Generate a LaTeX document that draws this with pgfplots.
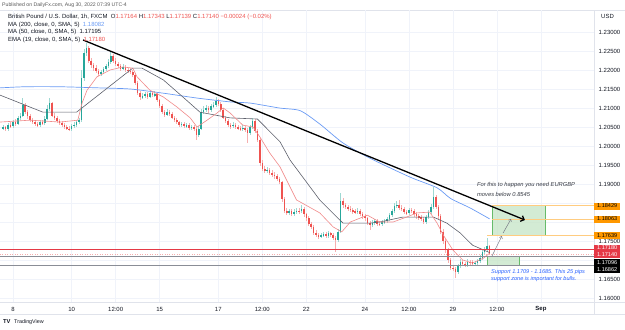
\documentclass[border=0pt]{standalone}
\usepackage{fontspec}
\setmainfont{Liberation Sans}
\usepackage{pgfplots}
\pgfplotsset{compat=1.18}
\usepackage{pgfplotstable}
\usetikzlibrary{arrows.meta}

\definecolor{upc}{HTML}{26A69A}
\definecolor{dnc}{HTML}{EF5350}
\definecolor{upw}{HTML}{9ED8D2}
\definecolor{dnw}{HTML}{F6AFAF}
\definecolor{maA}{HTML}{6A9BF4}
\definecolor{maB}{HTML}{5D606B}
\definecolor{emac}{HTML}{F08A8A}
\definecolor{gridc}{HTML}{F0F3FA}
\definecolor{framec}{HTML}{E0E3EB}
\definecolor{lblc}{HTML}{131722}
\definecolor{orng}{HTML}{FF9800}
\definecolor{orngl}{HTML}{FFCC80}
\definecolor{redl}{HTML}{E53946}
\definecolor{grayl}{HTML}{8A8D96}
\definecolor{boxf}{HTML}{C8E6C9}
\definecolor{boxd}{HTML}{66BB6A}
\definecolor{supp}{HTML}{2962FF}
\definecolor{arrg}{HTML}{787B86}

% GBP/USD, 2-hour bars; t = trading hours since Aug 8, 00:00 (UTC-4)
\pgfplotstableread{
t o h l c
-8 1.2046 1.2056 1.2041 1.2050
-6 1.2050 1.2054 1.2039 1.2044
-4 1.2044 1.2060 1.2040 1.2055
-2 1.2055 1.2062 1.2047 1.2052
0 1.2052 1.2068 1.2048 1.2063
2 1.2063 1.2070 1.2053 1.2058
4 1.2058 1.2080 1.2054 1.2074
6 1.2074 1.2088 1.2069 1.2080
8 1.2080 1.2126 1.2076 1.2108
10 1.2108 1.2114 1.2085 1.2090
12 1.2090 1.2095 1.2072 1.2078
14 1.2078 1.2084 1.2062 1.2068
16 1.2068 1.2074 1.2057 1.2063
18 1.2063 1.2068 1.2052 1.2058
20 1.2058 1.2064 1.2049 1.2055
22 1.2055 1.2068 1.2051 1.2062
24 1.2062 1.2069 1.2054 1.2060
26 1.2060 1.2078 1.2056 1.2072
28 1.2072 1.2108 1.2068 1.2098
30 1.2098 1.2126 1.2092 1.2112
32 1.2112 1.2116 1.2076 1.2080
34 1.2080 1.2086 1.2068 1.2074
36 1.2074 1.2079 1.2061 1.2066
38 1.2066 1.2071 1.2055 1.2060
40 1.2060 1.2065 1.2050 1.2055
42 1.2055 1.2060 1.2045 1.2050
44 1.2050 1.2056 1.2041 1.2046
46 1.2046 1.2052 1.2040 1.2044
48 1.2044 1.2058 1.2040 1.2052
50 1.2052 1.2062 1.2047 1.2056
52 1.2056 1.2068 1.2051 1.2062
54 1.2062 1.2074 1.2058 1.2068
56 1.2068 1.2200 1.2064 1.2180
58 1.2180 1.2256 1.2172 1.2245
60 1.2245 1.2271 1.2236 1.2258
62 1.2258 1.2262 1.2218 1.2225
64 1.2225 1.2232 1.2205 1.2212
66 1.2212 1.2219 1.2198 1.2205
68 1.2205 1.2212 1.2192 1.2198
70 1.2198 1.2204 1.2184 1.2190
72 1.2190 1.2201 1.2185 1.2195
74 1.2195 1.2208 1.2190 1.2202
76 1.2202 1.2216 1.2197 1.2210
78 1.2210 1.2229 1.2205 1.2222
80 1.2222 1.2247 1.2217 1.2236
82 1.2236 1.2242 1.2219 1.2225
84 1.2225 1.2231 1.2210 1.2216
86 1.2216 1.2222 1.2204 1.2210
88 1.2210 1.2216 1.2198 1.2204
90 1.2204 1.2215 1.2199 1.2208
92 1.2208 1.2213 1.2194 1.2200
94 1.2200 1.2206 1.2192 1.2198
96 1.2198 1.2204 1.2189 1.2195
98 1.2195 1.2201 1.2182 1.2188
100 1.2188 1.2192 1.2160 1.2165
102 1.2165 1.2170 1.2134 1.2140
104 1.2140 1.2146 1.2122 1.2128
106 1.2128 1.2139 1.2123 1.2132
108 1.2132 1.2142 1.2127 1.2136
110 1.2136 1.2141 1.2125 1.2130
112 1.2130 1.2146 1.2126 1.2140
114 1.2140 1.2145 1.2129 1.2134
116 1.2134 1.2145 1.2128 1.2137
118 1.2137 1.2141 1.2115 1.2120
120 1.2120 1.2124 1.2099 1.2105
122 1.2105 1.2110 1.2084 1.2090
124 1.2090 1.2095 1.2076 1.2082
126 1.2082 1.2097 1.2078 1.2090
128 1.2090 1.2096 1.2080 1.2085
130 1.2085 1.2090 1.2070 1.2075
132 1.2075 1.2080 1.2062 1.2068
134 1.2068 1.2073 1.2057 1.2062
136 1.2062 1.2067 1.2051 1.2056
138 1.2056 1.2064 1.2051 1.2058
140 1.2058 1.2063 1.2047 1.2052
142 1.2052 1.2061 1.2047 1.2055
144 1.2055 1.2060 1.2043 1.2048
146 1.2048 1.2056 1.2043 1.2050
148 1.2050 1.2055 1.2040 1.2046
150 1.2046 1.2050 1.2016 1.2030
152 1.2030 1.2052 1.2024 1.2045
154 1.2045 1.2098 1.2042 1.2090
156 1.2090 1.2104 1.2084 1.2096
158 1.2096 1.2107 1.2090 1.2100
160 1.2100 1.2106 1.2088 1.2094
162 1.2094 1.2110 1.2090 1.2104
164 1.2104 1.2115 1.2099 1.2108
166 1.2108 1.2129 1.2103 1.2118
168 1.2118 1.2124 1.2104 1.2110
170 1.2110 1.2115 1.2090 1.2095
172 1.2095 1.2099 1.2070 1.2075
174 1.2075 1.2080 1.2060 1.2065
176 1.2065 1.2070 1.2050 1.2055
178 1.2055 1.2061 1.2046 1.2052
180 1.2052 1.2062 1.2047 1.2056
182 1.2056 1.2061 1.2045 1.2050
184 1.2050 1.2055 1.2042 1.2047
186 1.2047 1.2053 1.2040 1.2045
188 1.2045 1.2054 1.2040 1.2048
190 1.2048 1.2052 1.2036 1.2042
192 1.2042 1.2047 1.2008 1.2035
194 1.2035 1.2056 1.2030 1.2050
196 1.2050 1.2074 1.2045 1.2066
198 1.2066 1.2070 1.2034 1.2040
200 1.2040 1.2045 1.2010 1.2016
202 1.2016 1.2020 1.1948 1.1955
204 1.1955 1.1962 1.1934 1.1940
206 1.1940 1.1947 1.1929 1.1935
208 1.1935 1.1945 1.1930 1.1938
210 1.1938 1.1943 1.1924 1.1930
212 1.1930 1.1936 1.1919 1.1925
214 1.1925 1.1931 1.1914 1.1920
216 1.1920 1.1926 1.1908 1.1914
218 1.1914 1.1919 1.1899 1.1905
220 1.1905 1.1909 1.1854 1.1860
222 1.1860 1.1865 1.1823 1.1830
224 1.1830 1.1837 1.1818 1.1825
226 1.1825 1.1835 1.1819 1.1828
228 1.1828 1.1834 1.1816 1.1822
230 1.1822 1.1833 1.1817 1.1826
232 1.1826 1.1837 1.1821 1.1830
234 1.1830 1.1836 1.1822 1.1828
236 1.1828 1.1845 1.1823 1.1834
238 1.1834 1.1839 1.1814 1.1820
240 1.1820 1.1825 1.1804 1.1810
242 1.1810 1.1815 1.1789 1.1795
244 1.1795 1.1801 1.1782 1.1788
246 1.1788 1.1792 1.1766 1.1772
248 1.1772 1.1778 1.1760 1.1766
250 1.1766 1.1772 1.1756 1.1762
252 1.1762 1.1772 1.1757 1.1766
254 1.1766 1.1775 1.1761 1.1768
256 1.1768 1.1774 1.1758 1.1764
258 1.1764 1.1777 1.1759 1.1770
260 1.1770 1.1775 1.1760 1.1766
262 1.1766 1.1770 1.1752 1.1758
264 1.1758 1.1763 1.1721 1.1752
266 1.1752 1.1781 1.1748 1.1775
268 1.1775 1.1876 1.1770 1.1855
270 1.1855 1.1862 1.1838 1.1845
272 1.1845 1.1851 1.1834 1.1840
274 1.1840 1.1846 1.1829 1.1835
276 1.1835 1.1841 1.1826 1.1832
278 1.1832 1.1838 1.1822 1.1828
280 1.1828 1.1834 1.1820 1.1826
282 1.1826 1.1837 1.1821 1.1830
284 1.1830 1.1835 1.1816 1.1822
286 1.1822 1.1827 1.1809 1.1815
288 1.1815 1.1821 1.1804 1.1810
290 1.1810 1.1814 1.1792 1.1798
292 1.1798 1.1803 1.1779 1.1792
294 1.1792 1.1805 1.1787 1.1798
296 1.1798 1.1809 1.1793 1.1802
298 1.1802 1.1807 1.1790 1.1796
300 1.1796 1.1803 1.1789 1.1795
302 1.1795 1.1806 1.1790 1.1800
304 1.1800 1.1808 1.1795 1.1802
306 1.1802 1.1814 1.1797 1.1808
308 1.1808 1.1824 1.1803 1.1818
310 1.1818 1.1835 1.1813 1.1828
312 1.1828 1.1850 1.1823 1.1842
314 1.1842 1.1855 1.1836 1.1846
316 1.1846 1.1858 1.1832 1.1838
318 1.1838 1.1844 1.1828 1.1834
320 1.1834 1.1839 1.1820 1.1826
322 1.1826 1.1832 1.1818 1.1824
324 1.1824 1.1838 1.1819 1.1832
326 1.1832 1.1838 1.1824 1.1830
328 1.1830 1.1835 1.1814 1.1820
330 1.1820 1.1826 1.1809 1.1815
332 1.1815 1.1821 1.1806 1.1812
334 1.1812 1.1818 1.1802 1.1808
336 1.1808 1.1813 1.1794 1.1800
338 1.1800 1.1818 1.1796 1.1812
340 1.1812 1.1832 1.1807 1.1826
342 1.1826 1.1847 1.1821 1.1840
344 1.1840 1.1892 1.1835 1.1865
346 1.1865 1.1872 1.1834 1.1840
348 1.1840 1.1845 1.1808 1.1815
350 1.1815 1.1820 1.1768 1.1775
352 1.1775 1.1781 1.1743 1.1750
354 1.1750 1.1756 1.1719 1.1726
356 1.1726 1.1732 1.1693 1.1700
358 1.1700 1.1706 1.1673 1.1680
360 1.1680 1.1687 1.1670 1.1676
362 1.1676 1.1682 1.1653 1.1668
364 1.1668 1.1690 1.1662 1.1685
366 1.1685 1.1702 1.1680 1.1695
368 1.1695 1.1700 1.1684 1.1690
370 1.1690 1.1696 1.1682 1.1688
372 1.1688 1.1702 1.1683 1.1696
374 1.1696 1.1701 1.1688 1.1694
376 1.1694 1.1699 1.1685 1.1690
378 1.1690 1.1698 1.1685 1.1692
380 1.1692 1.1704 1.1687 1.1698
382 1.1698 1.1712 1.1693 1.1706
384 1.1706 1.1727 1.1701 1.1720
386 1.1720 1.1735 1.1714 1.1728
388 1.1728 1.1758 1.1722 1.1736
390 1.1736 1.1740 1.17139 1.17140
}\ohlc

\pgfplotsset{
  candle/.style n args={3}{draw=none, mark=none, forget plot,
    y filter/.expression={#1 ? y : nan},
    error bars/.cd, y dir=both, y explicit, error mark=none,
    error bar style={draw=#2, solid, line width=#3}},
}

\begin{document}
\begin{tikzpicture}[font=\fontsize{6}{7}\selectfont]
\path[use as bounding box] (0,0) rectangle (625bp,330bp);
% pane frame
\draw[framec, line width=0.6bp] (0,319.5bp) -- (625bp,319.5bp);
\draw[framec, line width=0.6bp] (0,28bp) -- (625bp,28bp);
\draw[framec, line width=0.6bp] (0,16bp) -- (625bp,16bp);
\draw[framec, line width=0.6bp] (594bp,16bp) -- (594bp,319.5bp);

\begin{axis}[
  at={(0,28bp)}, anchor=south west,
  width=594bp, height=291.5bp, scale only axis,
  xmin=-10.64, xmax=475.4, ymin=1.15895, ymax=1.23566,
  clip=false,
  axis line style={draw=none},
  major tick length=0pt,
  grid=major, grid style={draw=gridc, line width=0.6bp},
  xtick={0,48,84,120,168,204,240,288,324,360,396,432},
  xticklabels={8,10,12:00,15,17,12:00,22,24,12:00,29,12:00,\textbf{Sep}},
  ytick={1.16,1.165,1.17,1.175,1.18,1.185,1.19,1.195,1.2,1.205,1.21,1.215,1.22,1.225,1.23},
  yticklabels={1.16000,1.16500,{},1.17500,{},{},1.19000,1.19500,1.20000,1.20500,1.21000,1.21500,1.22000,1.22500,1.23000},
  yticklabel pos=right,
  /pgf/number format/assume math mode=true,
  tick label style={font=\fontsize{6}{7}\selectfont, text=lblc, inner sep=0pt},
  xticklabel style={anchor=center, yshift=-7bp},
  yticklabel style={anchor=west, xshift=4.5bp},
]
% candles: wicks, then bodies
\addplot[candle={\thisrow{c}>=\thisrow{o}}{upw}{0.6bp}]
  table[x=t, y expr={(\thisrow{h}+\thisrow{l})/2}, y error expr={(\thisrow{h}-\thisrow{l})/2}] {\ohlc};
\addplot[candle={\thisrow{c}<\thisrow{o}}{dnw}{0.6bp}]
  table[x=t, y expr={(\thisrow{h}+\thisrow{l})/2}, y error expr={(\thisrow{h}-\thisrow{l})/2}] {\ohlc};
\addplot[candle={\thisrow{c}>=\thisrow{o}}{upc}{1.5bp}]
  table[x=t, y expr={(\thisrow{o}+\thisrow{c})/2}, y error expr={abs(\thisrow{c}-\thisrow{o})/2}] {\ohlc};
\addplot[candle={\thisrow{c}<\thisrow{o}}{dnc}{1.5bp}]
  table[x=t, y expr={(\thisrow{o}+\thisrow{c})/2}, y error expr={abs(\thisrow{c}-\thisrow{o})/2}] {\ohlc};

% MA 200
\addplot[maA, line width=0.7bp, smooth, tension=0.4, mark=none] coordinates {
(-10.64,1.2153) (10,1.2156) (38,1.2156) (70,1.2153) (96,1.2150) (123,1.2139)
(151,1.2126) (178,1.2116) (194,1.2113) (218,1.2100) (235,1.2093) (251,1.2058)
(270,1.2008) (292,1.1968) (325,1.1918) (347,1.1890) (358,1.1862) (374,1.1837)
(390,1.18082)};
% MA 50
\addplot[maB, line width=0.6bp, mark=none] coordinates {
(-10.64,1.2134) (24.5,1.2089) (52,1.2089) (98,1.2205) (105.5,1.2205) (123,1.2174)
(139,1.2129) (153,1.2089) (177.6,1.2074) (200,1.2071) (218.5,1.2011) (226.7,1.1963)
(251,1.1858) (270,1.1797) (292,1.1797) (300,1.1800) (319,1.1813) (344,1.1813)
(355,1.1797) (366,1.1771) (376,1.1739) (390,1.17195)};
% EMA 19
\addplot[emac, line width=0.6bp, mark=none] coordinates {
(-10.64,1.2063) (14,1.2068) (38.5,1.2063) (53,1.2068) (56.5,1.2113) (60.6,1.2147)
(68.7,1.2182) (79.4,1.2200) (90,1.2208) (98,1.2205) (101.5,1.2182) (112,1.2147)
(123,1.2129) (134,1.2103) (145,1.2074) (150.6,1.2050) (158.8,1.2068) (167,1.2087)
(172,1.2100) (177.6,1.2087) (188,1.2055) (196.4,1.2050) (202,1.2024) (210,1.1982)
(218.5,1.1945) (232,1.1858) (251,1.1824) (262,1.1787) (269,1.1774) (276,1.1800)
(290,1.1818) (300,1.1800) (311,1.1800) (322,1.1813) (330.6,1.1824) (341,1.1826)
(347,1.1797) (352,1.1766) (360,1.1726) (368,1.1700) (376,1.1692) (385,1.1705)
(390,1.17180)};

% target and support zones
\fill[boxf, opacity=0.8] (axis cs:392,1.17639) rectangle (axis cs:435.4,1.18429);
\draw[boxd, line width=0.6bp] (axis cs:392,1.17639) rectangle (axis cs:435.4,1.18429);
\fill[boxf, opacity=0.8] (axis cs:388,1.16862) rectangle (axis cs:414,1.17096);
\draw[boxd, line width=0.6bp] (axis cs:388,1.16862) rectangle (axis cs:414,1.17096);

% horizontal levels
\addplot[orngl, line width=0.7bp] coordinates {(392,1.18429) (475.4,1.18429)};
\addplot[orngl, line width=0.7bp] coordinates {(392,1.18063) (475.4,1.18063)};
\addplot[orngl, line width=0.7bp] coordinates {(388,1.17639) (475.4,1.17639)};
\addplot[redl, line width=0.7bp] coordinates {(-10.64,1.1728) (475.4,1.1728)};
\addplot[dnw, line width=0.5bp, dotted] coordinates {(-10.64,1.1714) (475.4,1.1714)};
\addplot[grayl, line width=0.7bp] coordinates {(-10.64,1.17096) (475.4,1.17096)};
\addplot[grayl, line width=0.7bp] coordinates {(-10.64,1.16862) (475.4,1.16862)};

% trend line
\addplot[black, line width=1.3bp, -{Straight Barb[length=3bp,width=6bp]}] coordinates {(57.3,1.2279) (418.9,1.18053)};
% projected path
\addplot[arrg, line width=0.5bp, -{Straight Barb[length=2bp,width=3.5bp]}] coordinates {(392,1.1711) (400,1.1763)};
\addplot[arrg, line width=0.5bp, -{Straight Barb[length=2bp,width=3.5bp]}] coordinates {(401,1.1771) (407.5,1.1808)};

% notes
\node[anchor=west, inner sep=0pt, text=lblc!85, font=\fontsize{5.8}{6}\selectfont\itshape] at (axis cs:379.6,1.18974) {For this to happen you need EURGBP};
\node[anchor=west, inner sep=0pt, text=lblc!85, font=\fontsize{5.8}{6}\selectfont\itshape] at (axis cs:379.6,1.18737) {moves below 0.8545};
\node[anchor=west, inner sep=0pt, text=supp, font=\fontsize{5.6}{6}\selectfont\itshape] at (axis cs:391.1,1.16684) {Support 1.1709 - 1.1685. This 25 pips};
\node[anchor=west, inner sep=0pt, text=supp, font=\fontsize{5.6}{6}\selectfont\itshape] at (axis cs:391.1,1.16487) {support zone is important for bulls.};

% price scale labels
\tikzset{plbl/.style={anchor=west, inner sep=0pt, minimum width=26bp, minimum height=7bp, font=\fontsize{5.6}{6}\selectfont}}
\node[plbl, fill=orng, text=black] at (axis cs:475.4,1.18421) {1.18429};
\node[plbl, fill=orng, text=black] at (axis cs:475.4,1.18079) {1.18063};
\node[plbl, fill=orng, text=black] at (axis cs:475.4,1.17632) {1.17639};
\node[plbl, fill=redl, text=white] at (axis cs:475.4,1.17316) {1.17180};
\node[plbl, fill=redl, text=white] at (axis cs:475.4,1.17132) {1.17140};
\node[plbl, fill=black, text=white] at (axis cs:475.4,1.16934) {1.17096};
\node[plbl, fill=black, text=white] at (axis cs:475.4,1.16750) {1.16862};
\end{axis}

% header
\node[anchor=west, inner sep=0pt, text=black!65, font=\fontsize{5.2}{6}\selectfont] at (2bp,325bp) {Published on DailyFx.com, Aug 30, 2022 07:39 UTC-4};
\node[anchor=west, inner sep=0pt, text=lblc] at (8bp,313bp) {British Pound / U.S. Dollar, 1h, FXCM\ \ O\textcolor{dnc}{1.17164} H\textcolor{dnc}{1.17343} L\textcolor{dnc}{1.17139} C\textcolor{dnc}{1.17140} \textcolor{dnc}{−0.00024 (−0.02\%)}};
\node[anchor=west, inner sep=0pt, text=lblc] at (8bp,305.5bp) {MA (200, close, 0, SMA, 5)\ \ \textcolor{maA}{1.18082}};
\node[anchor=west, inner sep=0pt, text=lblc] at (8bp,298bp) {MA (50, close, 0, SMA, 5)\ \ \textcolor{lblc}{1.17195}};
\node[anchor=west, inner sep=0pt, text=lblc] at (8bp,290bp) {EMA (19, close, 0, SMA, 5)\ \ \textcolor{dnc}{1.17180}};
\node[anchor=west, inner sep=0pt, text=lblc] at (601bp,314bp) {USD};
% footer
\node[anchor=west, inner sep=0pt, text=lblc, font=\fontsize{5.8}{6}\selectfont\bfseries] at (3bp,8bp) {TV};
\node[anchor=west, inner sep=0pt, text=lblc, font=\fontsize{5.4}{6}\selectfont] at (14bp,8bp) {TradingView};
\end{tikzpicture}
\end{document}
